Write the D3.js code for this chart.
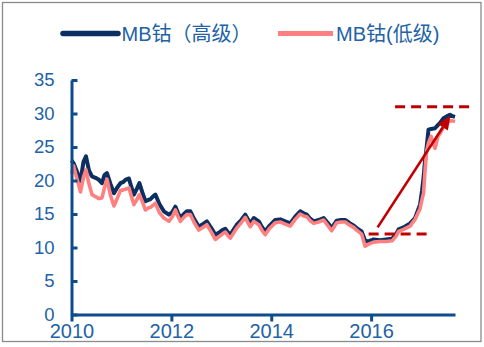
<!DOCTYPE html>
<html>
<head>
<meta charset="utf-8">
<script src="https://cdn.jsdelivr.net/npm/d3@7"></script>
<style>
  html, body { margin: 0; padding: 0; background: #fff; }
  svg { display: block; }
  text { font-family: "Liberation Sans", Arial, "Noto Sans CJK SC", sans-serif; }
</style>
</head>
<body>
<script>
// ---------- data ----------
const dates = [
  2010.00, 2010.04, 2010.10, 2010.18, 2010.24, 2010.29, 2010.35, 2010.41, 2010.48, 2010.55,
  2010.61, 2010.66, 2010.71, 2010.78, 2010.85, 2010.92, 2010.98, 2011.04, 2011.08, 2011.15,
  2011.20, 2011.25, 2011.31, 2011.36, 2011.42, 2011.48, 2011.54, 2011.58, 2011.63, 2011.68,
  2011.76, 2011.85, 2011.95, 2012.02, 2012.08, 2012.13, 2012.18, 2012.25, 2012.31, 2012.38,
  2012.46, 2012.55, 2012.63, 2012.71, 2012.80, 2012.88, 2012.95, 2013.02, 2013.08, 2013.13,
  2013.18, 2013.25, 2013.31, 2013.40, 2013.48, 2013.54, 2013.58, 2013.65, 2013.75, 2013.82,
  2013.88, 2013.96, 2014.08, 2014.18, 2014.28, 2014.38, 2014.48, 2014.58, 2014.65, 2014.71,
  2014.78, 2014.85, 2014.95, 2015.05, 2015.13, 2015.21, 2015.31, 2015.40, 2015.48, 2015.58,
  2015.65, 2015.71, 2015.81, 2015.88, 2015.95, 2016.05, 2016.18, 2016.30, 2016.42, 2016.50,
  2016.55, 2016.65, 2016.78, 2016.88, 2016.98, 2017.02, 2017.05, 2017.08, 2017.11, 2017.15,
  2017.20, 2017.28, 2017.34, 2017.38, 2017.45, 2017.52, 2017.58, 2017.63, 2017.68
];
const highGrade = [
  23.0, 22.6, 21.5, 19.9, 22.8, 23.6, 21.5, 20.6, 20.4, 20.1,
  19.6, 20.8, 21.1, 19.5, 18.1, 19.0, 19.6, 19.8, 20.1, 20.3,
  19.0, 17.9, 18.8, 19.6, 18.2, 16.9, 17.1, 17.2, 17.6, 17.9,
  16.5, 15.4, 14.9, 15.3, 16.1, 15.2, 14.4, 15.0, 15.4, 15.4,
  14.2, 13.1, 13.5, 13.9, 12.9, 11.9, 12.2, 12.6, 12.8, 12.3,
  11.9, 12.7, 13.4, 14.1, 14.9, 14.1, 13.6, 14.4, 13.9, 13.0,
  12.4, 13.2, 14.1, 14.2, 13.9, 13.6, 14.6, 15.4, 15.1, 14.9,
  14.3, 13.9, 14.1, 14.4, 13.7, 12.9, 14.0, 14.1, 14.1, 13.6,
  13.3, 12.9, 12.4, 11.0, 10.9, 11.2, 11.1, 11.2, 11.3, 12.0,
  12.7, 13.0, 13.6, 14.4, 16.4, 18.5, 20.4, 23.0, 24.8, 27.6,
  27.7, 27.8, 28.3, 28.6, 29.3, 29.6, 29.8, 29.6, 29.5
];
const lowGrade = [
  21.0, 22.2, 20.5, 18.3, 20.5, 21.6, 19.5, 17.9, 17.6, 17.3,
  17.4, 18.9, 20.2, 17.8, 16.2, 17.4, 18.5, 18.6, 18.7, 18.9,
  17.6, 16.4, 17.2, 17.9, 16.8, 15.6, 15.9, 16.0, 16.3, 16.6,
  15.2, 14.4, 13.9, 14.6, 15.6, 14.7, 13.9, 14.5, 14.9, 14.9,
  13.7, 12.6, 13.0, 13.4, 12.3, 11.2, 11.6, 12.0, 12.3, 11.8,
  11.4, 12.2, 12.9, 13.7, 14.5, 13.6, 13.1, 13.9, 13.4, 12.5,
  11.9, 12.8, 13.7, 13.8, 13.5, 13.2, 14.2, 15.0, 14.7, 14.6,
  14.0, 13.6, 13.8, 14.1, 13.3, 12.5, 13.7, 13.8, 13.8, 13.3,
  13.0, 12.6, 12.0, 10.2, 10.5, 10.8, 10.9, 10.9, 11.0, 11.7,
  12.4, 12.7, 13.2, 14.2, 15.8, 17.2, 18.1, 21.5, 24.3, 25.6,
  26.6, 24.8, 26.6, 27.0, 28.0, 28.6, 28.9, 28.9, 28.8
];
const seriesNames = ["MB钴（高级）", "MB钴(低级)"];
const yTicks = [0, 5, 10, 15, 20, 25, 30, 35];
const xTicks = [2010, 2012, 2014, 2016];
// annotation: dashed reference levels [fromYear, toYear, value]
const refLines = [[2016.48, 2018.08, 31], [2015.95, 2017.21, 12]];
// annotation arrow [fromYear, fromValue, toYear, toValue]
const arrowPts = [2016.13, 13.0, 2017.59, 29.7];

// ---------- chart ----------
const W = 484, H = 347;
const svg = d3.select("body").append("svg").attr("width", W).attr("height", H);

svg.append("rect").attr("x", 2.5).attr("y", 2.5).attr("width", 478.5).attr("height", 339)
  .attr("fill", "#fff").attr("stroke", "#8a8a8a").attr("stroke-width", 1.3);

const x = d3.scaleLinear().domain([2010, 2017.68]).range([71.5, 455]);
const y = d3.scaleLinear().domain([0, 35]).range([314.5, 80]);

const axisColor = "#0E4C8E";
const labelColor = "#2262A6";
const darkColor = "#0B2F60";
const pinkColor = "#FF8080";
const red = "#C00000";

// series
const line = d3.line().x((d, i) => x(dates[i])).y(d => y(d));
svg.append("path").datum(highGrade).attr("d", line)
  .attr("fill", "none").attr("stroke", darkColor).attr("stroke-width", 4)
  .attr("stroke-linejoin", "round");
svg.append("path").datum(lowGrade).attr("d", line)
  .attr("fill", "none").attr("stroke", pinkColor).attr("stroke-width", 3.6)
  .attr("stroke-linejoin", "round");

// y axis
const gy = svg.append("g").attr("transform", `translate(${x(2010)},0)`)
  .call(d3.axisLeft(y).tickValues(yTicks).tickSize(-6).tickSizeOuter(0).tickPadding(17));
// x axis
const gx = svg.append("g").attr("transform", `translate(0,${y(0)})`)
  .call(d3.axisBottom(x).tickValues(xTicks).tickFormat(d3.format("d")).tickSize(7).tickSizeOuter(0).tickPadding(2));

[gy, gx].forEach(g => {
  g.select(".domain").attr("stroke", axisColor).attr("stroke-width", 3);
  g.selectAll(".tick line").attr("stroke", axisColor).attr("stroke-width", 3);
});
gy.selectAll(".tick text").attr("fill", labelColor).style("font-size", "18.5px");
gx.selectAll(".tick text").attr("fill", labelColor).style("font-size", "20px");

// reference dashed lines
svg.selectAll(".ref").data(refLines).enter().append("line")
  .attr("x1", d => x(d[0])).attr("x2", d => x(d[1]))
  .attr("y1", d => y(d[2])).attr("y2", d => y(d[2]))
  .attr("stroke", red).attr("stroke-width", 3).attr("stroke-dasharray", "10,6");

// arrow
const ax1 = x(arrowPts[0]), ay1 = y(arrowPts[1]), ax2 = x(arrowPts[2]), ay2 = y(arrowPts[3]);
const ang = Math.atan2(ay2 - ay1, ax2 - ax1);
const headLen = 14, headW = 6;
const bx = ax2 - headLen * Math.cos(ang), by = ay2 - headLen * Math.sin(ang);
svg.append("line").attr("x1", ax1).attr("y1", ay1).attr("x2", bx).attr("y2", by)
  .attr("stroke", red).attr("stroke-width", 2.6);
svg.append("path")
  .attr("d", `M${ax2},${ay2}L${bx + headW * Math.sin(ang)},${by - headW * Math.cos(ang)}L${bx - headW * Math.sin(ang)},${by + headW * Math.cos(ang)}Z`)
  .attr("fill", red);

// legend
const legend = [
  { name: seriesNames[0], color: darkColor, x0: 63, x1: 118, tx: 121.5, w: 5.5, cap: "round" },
  { name: seriesNames[1], color: pinkColor, x0: 278, x1: 333, tx: 336, w: 5, cap: "butt" }
];
legend.forEach(l => {
  svg.append("line").attr("x1", l.x0).attr("x2", l.x1).attr("y1", 33.5).attr("y2", 33.5)
    .attr("stroke", l.color).attr("stroke-width", l.w).attr("stroke-linecap", l.cap);
  svg.append("text").attr("x", l.tx).attr("y", 40.5).text(l.name)
    .attr("fill", labelColor).style("font-size", "20px");
});
</script>
</body>
</html>
